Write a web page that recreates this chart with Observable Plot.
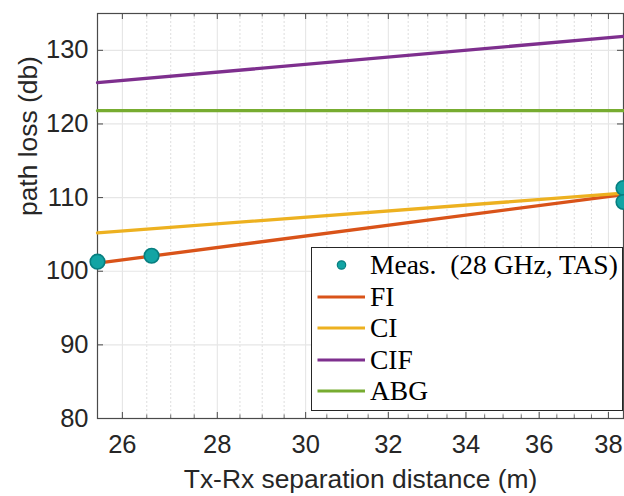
<!DOCTYPE html>
<html>
<head>
<meta charset="utf-8">
<script src="https://cdn.jsdelivr.net/npm/d3@7"></script>
<script src="https://cdn.jsdelivr.net/npm/@observablehq/plot@0.6"></script>
<style>
  html, body { margin: 0; padding: 0; background: #fff; }
  #wrap { position: relative; width: 624px; height: 496px; overflow: hidden; }
  #legend { position: absolute; left: 311px; top: 247px; width: 312px; height: 164px;
            box-sizing: border-box; border: 1px solid #262626; background: #fff;
            font-family: "Liberation Serif", "Times New Roman", serif; font-size: 27.5px; color: #000; }
  .row { position: absolute; left: 0; height: 32px; display: flex; align-items: center; }
  .row svg { display: block; }
  .row span { position: absolute; left: 58px; white-space: pre; line-height: 32px; }
</style>
</head>
<body>
<div id="wrap"></div>
<script>
// ---- data ----
const measDistance = [25.5, 26.6, 38.45, 38.45];
const measLoss = [101.3, 102.1, 111.3, 109.4];

const modelNames = ["FI", "CI", "CIF", "ABG"];
const modelColors = ["#D95319", "#EDB120", "#7E2F8E", "#77AC30"];
const modelDistance = [25.5, 38.45];
const fiLoss = [101.1, 110.4];
const ciLoss = [105.2, 110.6];
const cifLoss = [125.6, 131.9];
const abgLoss = [121.8, 121.8];

const xTicks = [26, 28, 30, 32, 34, 36, 38];
const xMinor = [25.5, 26.5, 27, 27.5, 28.5, 29, 29.5, 30.5, 31, 31.5, 32.5, 33, 33.5, 34.5, 35, 35.5, 36.5, 37, 37.5, 38.5];
const yTicks = [80, 90, 100, 110, 120, 130];
const xDomain = [25.5, 38.45];
const yDomain = [80, 135];

const xLabel = "Tx-Rx separation distance (m)";
const yLabel = "path loss (db)";
const measLabel = "Meas.  (28 GHz, TAS)";

// ---- build tables ----
const meas = measDistance.map((d, i) => ({d, pl: measLoss[i]}));
const modelSeries = [fiLoss, ciLoss, cifLoss, abgLoss];
const models = modelNames.flatMap((name, k) =>
  modelDistance.map((d, i) => ({name, d, pl: modelSeries[k][i]})));

const W = 624, H = 496, mL = 97, mT = 13, mR = 1, mB = 78;
const plotH = H - mT - mB, plotW = W - mL - mR;
const xMinorIn = xMinor.filter(v => v >= xDomain[0] && v <= xDomain[1]);
const axisColor = "#4a4a4a";
const textColor = "#262626";

const chart = Plot.plot({
  width: W, height: H,
  marginLeft: mL, marginTop: mT, marginRight: mR, marginBottom: mB,
  style: {fontFamily: "'Liberation Sans', Arial, Helvetica, sans-serif", background: "#fff", overflow: "visible"},
  x: {type: "log", domain: xDomain, axis: null},
  y: {type: "linear", domain: yDomain, axis: null},
  color: {domain: modelNames, range: modelColors},
  marks: [
    // grid
    Plot.ruleX(xMinorIn, {stroke: "#d6d6d6", strokeWidth: 0.8, strokeDasharray: "2,2"}),
    Plot.ruleX(xTicks, {stroke: "#e3e3e3", strokeWidth: 1}),
    Plot.ruleY(yTicks, {stroke: "#e6e6e6", strokeWidth: 1.2}),
    // ticks (inward)
    Plot.tickX(xTicks, {x: d => d, stroke: axisColor, strokeWidth: 1, insetTop: plotH - 6}),
    Plot.tickX(xTicks, {x: d => d, stroke: axisColor, strokeWidth: 1, insetBottom: plotH - 6}),
    Plot.tickX(xMinorIn, {x: d => d, stroke: axisColor, strokeWidth: 0.8, insetTop: plotH - 3.5}),
    Plot.tickX(xMinorIn, {x: d => d, stroke: axisColor, strokeWidth: 0.8, insetBottom: plotH - 3.5}),
    Plot.tickY(yTicks, {y: d => d, stroke: axisColor, strokeWidth: 1, insetRight: plotW - 6}),
    Plot.tickY(yTicks, {y: d => d, stroke: axisColor, strokeWidth: 1, insetLeft: plotW - 6}),
    // frame
    Plot.frame({stroke: axisColor, strokeWidth: 1.2}),
    // axes labels
    Plot.axisX(xTicks, {anchor: "bottom", tickSize: 0, tickPadding: 16, fontSize: 25.5, color: textColor, tickFormat: d => String(d), label: null}),
    Plot.axisY(yTicks, {anchor: "left", tickSize: 0, tickPadding: 9, fontSize: 25.5, color: textColor, tickFormat: d => String(d), label: null}),
    Plot.text([xLabel], {text: d => d, frameAnchor: "bottom", dy: 61, fontSize: 26.4, fill: textColor, lineAnchor: "middle"}),
    Plot.text([yLabel], {text: d => d, frameAnchor: "left", dx: -69, rotate: -90, fontSize: 26.4, fill: textColor, lineAnchor: "middle"}),
    // model lines
    Plot.line(models, {x: "d", y: "pl", z: "name", stroke: "name", strokeWidth: 3.3}),
    // measurements
    Plot.dot(meas, {x: "d", y: "pl", r: 7.3, fill: "#12a4a4", stroke: "#077f80", strokeWidth: 1.6})
  ]
});

const wrap = document.getElementById("wrap");
wrap.appendChild(chart);

// legend
const legend = document.createElement("div");
legend.id = "legend";
const rows = [{label: measLabel, dot: true}].concat(modelNames.map((n, i) => ({label: n, color: modelColors[i]})));
rows.forEach((r, i) => {
  const row = document.createElement("div");
  row.className = "row";
  row.style.top = (1 + i * 31.6) + "px";
  const svgNS = "http://www.w3.org/2000/svg";
  const s = document.createElementNS(svgNS, "svg");
  s.setAttribute("width", "56"); s.setAttribute("height", "32");
  if (r.dot) {
    const c = document.createElementNS(svgNS, "circle");
    c.setAttribute("cx", "29.5"); c.setAttribute("cy", "16"); c.setAttribute("r", "4.2");
    c.setAttribute("fill", "#12a4a4"); c.setAttribute("stroke", "#077f80"); c.setAttribute("stroke-width", "1.2");
    s.appendChild(c);
  } else {
    const l = document.createElementNS(svgNS, "line");
    l.setAttribute("x1", "5.5"); l.setAttribute("x2", "53"); l.setAttribute("y1", "16"); l.setAttribute("y2", "16");
    l.setAttribute("stroke", r.color); l.setAttribute("stroke-width", "3");
    s.appendChild(l);
  }
  row.appendChild(s);
  const t = document.createElement("span");
  t.textContent = r.label;
  row.appendChild(t);
  legend.appendChild(row);
});
wrap.appendChild(legend);
</script>
</body>
</html>
